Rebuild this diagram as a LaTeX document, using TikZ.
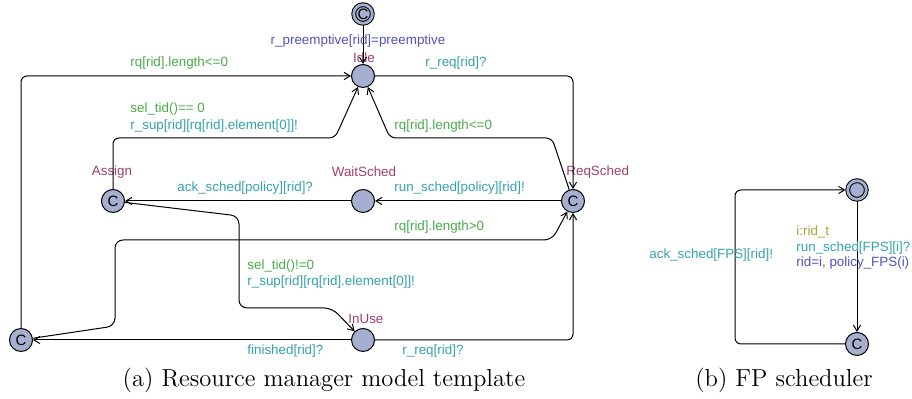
\documentclass[tikz,border=0pt]{standalone}
\usepackage{fontspec}
\newfontfamily\uppfont{Liberation Sans}
\usetikzlibrary{arrows.meta}
\definecolor{locfill}{RGB}{166,175,207}
\definecolor{namecol}{RGB}{160,62,112}
\definecolor{guardcol}{RGB}{72,172,72}
\definecolor{synccol}{RGB}{52,162,172}
\definecolor{assigncol}{RGB}{82,82,188}
\definecolor{selcol}{RGB}{165,165,55}

\begin{document}
\begin{tikzpicture}[x=0.5pt,y=-0.5pt]
		\tikzset{loc/.style={circle,draw,fill=locfill,line width=0.5pt,minimum size=11.5pt,inner sep=0pt,font=\uppfont\fontsize{7.5}{8}\selectfont}}
		\tikzset{initloc/.style={loc,double=locfill,double distance=1.4pt,minimum size=9.3pt,outer sep=1.1pt}}
		\tikzset{lbl/.style={inner sep=0pt,anchor=west,font=\uppfont\fontsize{6.7}{8}\selectfont}}
		\tikzset{locname/.style={lbl,text=namecol}}
		\tikzset{guard/.style={lbl,text=guardcol}}
		\tikzset{sync/.style={lbl,text=synccol}}
		\tikzset{upd/.style={lbl,text=assigncol}}
		\tikzset{sel/.style={lbl,text=selcol}}
		\tikzset{caption/.style={inner sep=0pt,font=\fontsize{12.3}{14}\selectfont}}
		\tikzset{EdgeStyle/.style={line width=0.5pt,rounded corners=3pt,-{Straight Barb[length=3pt,width=3.6pt]}}}
		\useasboundingbox (0,0) rectangle (912,399);
		% (a) resource manager
		\node[initloc] (Init) at (363,14) {C};
		\node[loc] (Idle) at (363,76) {};
		\node[loc] (Assign) at (113,201) {C};
		\node[loc] (WaitSched) at (363,201) {};
		\node[loc] (ReqSched) at (573,201) {C};
		\node[loc] (InUse) at (363,340) {};
		\node[loc] (Back) at (21,340) {C};
		\node[locname,anchor=center] (nIdle) at (364,58) {Idle};
		\node[locname,anchor=center] (nAssign) at (112,172) {Assign};
		\node[locname,anchor=center] (nWaitSched) at (364,172) {WaitSched};
		\node[locname] (nReqSched) at (566,172) {ReqSched};
		\node[locname] (nInUse) at (348,319) {InUse};
		\draw[EdgeStyle] (Init) -- (Idle);
		\draw[EdgeStyle] (Idle) -| (ReqSched);
		\draw[EdgeStyle] (ReqSched) -- (552,138) -- (390,138) -- (Idle);
		\draw[EdgeStyle] (ReqSched) -- (WaitSched);
		\draw[EdgeStyle] (WaitSched) -- (Assign);
		\draw[EdgeStyle] (Assign) -- (113,138) -- (335,138) -- (Idle);
		\draw[EdgeStyle,rounded corners=4pt] (Assign) -- (239,216) -- (239,308) -- (332,308) -- (InUse);
		\draw[EdgeStyle] (InUse) -- (Back);
		\draw[EdgeStyle] (InUse) -| (ReqSched);
		\draw[EdgeStyle,rounded corners=4pt] (Back) -- (115,326) -- (115,240) -- (552,240) -- (ReqSched);
		\draw[EdgeStyle] (Back) |- (Idle);
		\node[upd,anchor=center] (a1) at (358,41) {r\_preemptive[rid]=preemptive};
		\node[guard] (g1) at (130,63) {rq[rid].length<=0};
		\node[sync] (s1) at (425,63) {r\_req[rid]?};
		\node[guard] (g2) at (130,109) {sel\_tid()== 0};
		\node[sync] (s2) at (130,126) {r\_sup[rid][rq[rid].element[0]]!};
		\node[guard] (g3) at (394,126) {rq[rid].length<=0};
		\node[sync] (s3) at (177,188) {ack\_sched[policy][rid]?};
		\node[sync] (s4) at (394,188) {run\_sched[policy][rid]!};
		\node[guard] (g4) at (394,227) {rq[rid].length>0};
		\node[guard] (g5) at (247,266) {sel\_tid()!=0};
		\node[sync] (s5) at (247,282) {r\_sup[rid][rq[rid].element[0]]!};
		\node[sync] (s6) at (247,351) {finished[rid]?};
		\node[sync] (s7) at (402,351) {r\_req[rid]?};
		\node[caption] (capA) at (324,380) {(a) Resource manager model template};
		% (b) FP scheduler
		\node[initloc] (FPInit) at (857,190) {};
		\node[loc] (FPRun) at (857,344) {C};
		\draw[EdgeStyle] (FPInit) -- (FPRun);
		\draw[EdgeStyle] (FPRun) -- (735,344) |- (FPInit);
		\node[sel] (fs1) at (796,232) {i:rid\_t};
		\node[sync] (fs2) at (796,248) {run\_sched[FPS][i]?};
		\node[upd] (fs3) at (796,263) {rid=i, policy\_FPS(i)};
		\node[sync] (fs4) at (649,255) {ack\_sched[FPS][rid]!};
		\node[caption] (capB) at (784,380) {(b) FP scheduler};
\end{tikzpicture}
\end{document}
